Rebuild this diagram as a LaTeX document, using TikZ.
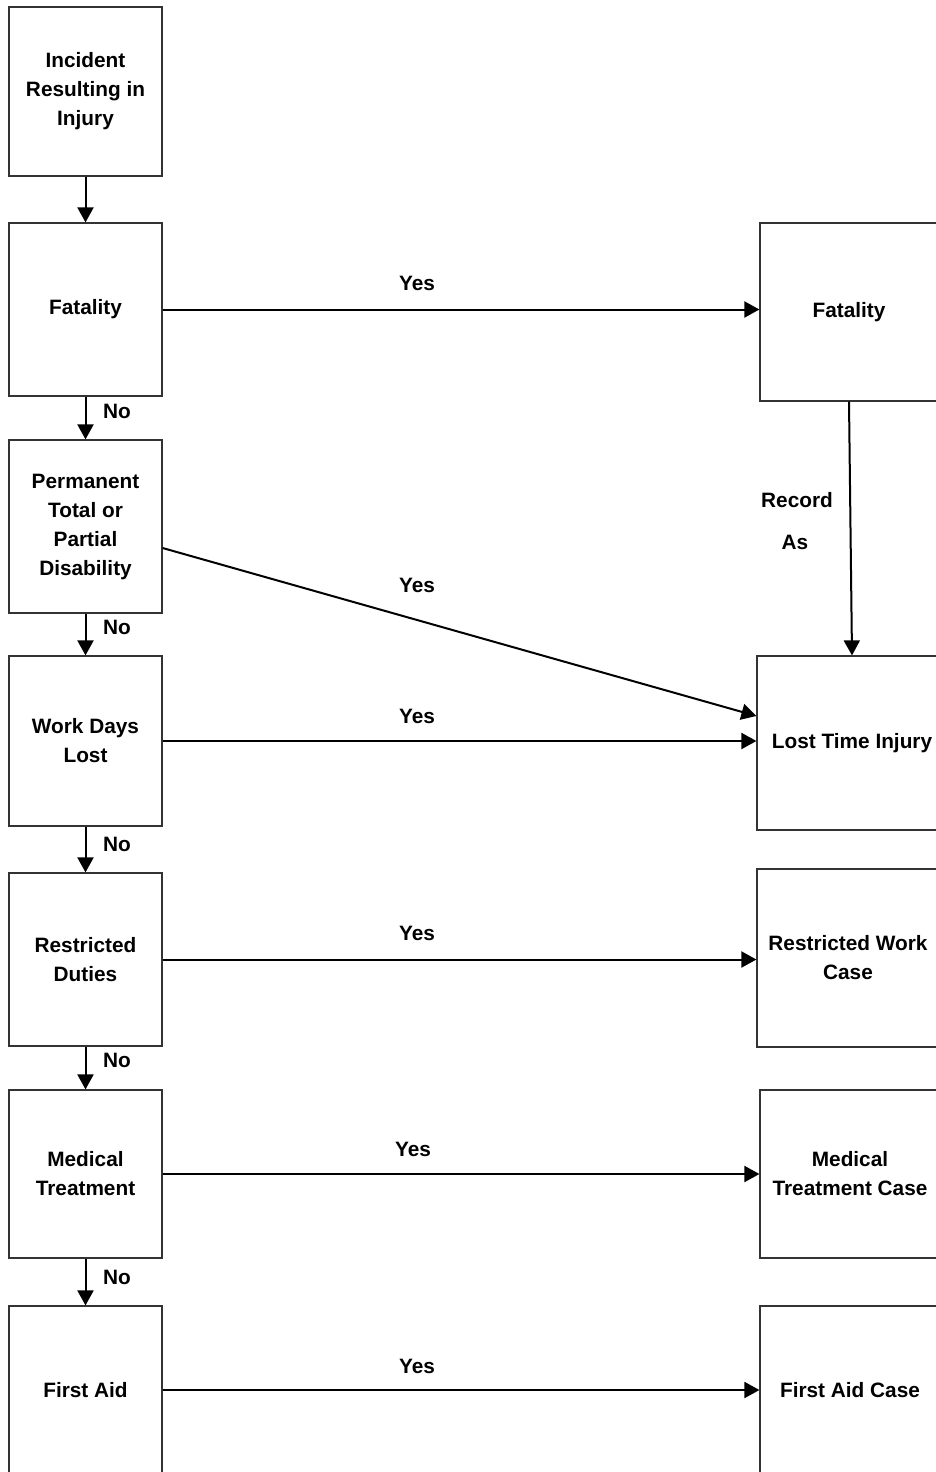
\documentclass[tikz,border=0pt]{standalone}
\usepackage{fontspec}
\setmainfont{Liberation Sans}
\usetikzlibrary{arrows.meta}
\tikzset{
  box/.style={draw=black!80, line width=0.6pt, rectangle, inner sep=0pt, align=center, font=\bfseries\fontsize{10.4}{14.5}\selectfont},
  lbox/.style={box, minimum width=76.5pt},
  lbl/.style={inner sep=0pt, font=\bfseries\fontsize{10.4}{14.5}\selectfont},
  arr/.style={line width=1pt, -{Triangle[length=7.5pt,width=8pt]}}
}
\begin{document}
\begin{tikzpicture}[x=0.5pt, y=-0.5pt]
\useasboundingbox (0,0) rectangle (936,1472);
\clip (0,0) rectangle (936,1472);
% left column
\node[lbox, minimum height=84.5pt] (inc) at (85.5,91.5) {Incident\\Resulting in\\Injury};
\node[lbox, minimum height=86.5pt] (fat) at (85.5,309.5) {Fatality};
\node[lbox, minimum height=86.5pt] (perm) at (85.5,526.5) {Permanent\\Total or\\Partial\\Disability};
\node[lbox, minimum height=85pt] (wdl) at (85.5,741) {Work Days\\Lost};
\node[lbox, minimum height=86.5pt] (rd) at (85.5,959.5) {Restricted\\Duties};
\node[lbox, minimum height=84pt] (mt) at (85.5,1174) {Medical\\Treatment};
\node[lbox, minimum height=84pt] (fa) at (85.5,1390) {First Aid};
% right column
\node[box, minimum width=89pt, minimum height=89pt] (fatR) at (849,312) {Fatality};
\node[box, minimum width=95pt, minimum height=87pt] (lti) at (852,743) {Lost Time Injury};
\node[box, minimum width=91pt, minimum height=89pt] (rwc) at (848,958) {Restricted Work\\Case};
\node[box, minimum width=90pt, minimum height=84pt] (mtc) at (850,1174) {Medical\\Treatment Case};
\node[box, minimum width=90pt, minimum height=84pt] (fac) at (850,1390) {First Aid Case};
% down the left
\draw[arr] (inc) -- (fat);
\draw[arr] (fat) -- (perm);
\draw[arr] (perm) -- (wdl);
\draw[arr] (wdl) -- (rd);
\draw[arr] (rd) -- (mt);
\draw[arr] (mt) -- (fa);
\node[lbl] (no1) at (117,411) {No};
\node[lbl] (no2) at (117,627) {No};
\node[lbl] (no3) at (117,844) {No};
\node[lbl] (no4) at (117,1060) {No};
\node[lbl] (no5) at (117,1277) {No};
% across
\draw[arr] (fat.east) -- (fat.east -| fatR.west);
\draw[arr] ([yshift=-10.75pt]perm.east) -- ([yshift=13.5pt]lti.west);
\draw[arr] (wdl.east) -- (wdl.east -| lti.west);
\draw[arr] (rd.east) -- (rd.east -| rwc.west);
\draw[arr] (mt.east) -- (mt.east -| mtc.west);
\draw[arr] (fa.east) -- (fa.east -| fac.west);
\node[lbl] (yes1) at (417,283) {Yes};
\node[lbl] (yes2) at (417,585) {Yes};
\node[lbl] (yes3) at (417,716) {Yes};
\node[lbl] (yes4) at (417,933) {Yes};
\node[lbl] (yes5) at (413,1149) {Yes};
\node[lbl] (yes6) at (417,1366) {Yes};
% record as
\draw[arr] (fatR.south) -- (lti.north);
\node[lbl] (rec) at (797,500) {Record};
\node[lbl] (as) at (795,542) {As};
\end{tikzpicture}
\end{document}
